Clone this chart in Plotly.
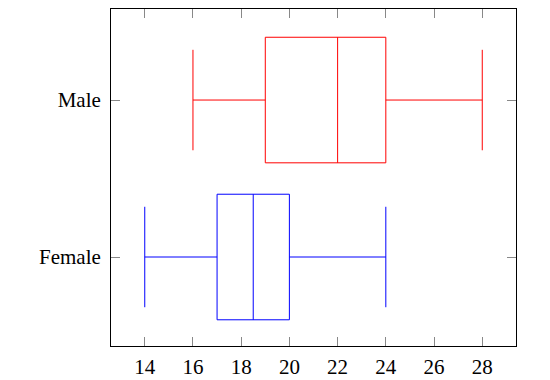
import plotly.graph_objects as go

categories = ["Female", "Male"]
lower_whisker = [14, 16]
q1 = [17, 19]
median = [18.5, 22]
q3 = [20, 24]
upper_whisker = [24, 28]
colors = ["blue", "red"]
x_ticks = [14, 16, 18, 20, 22, 24, 26, 28]

fig = go.Figure()
for i, cat in enumerate(categories):
    fig.add_trace(go.Box(
        y=[cat], orientation="h",
        q1=[q1[i]], median=[median[i]], q3=[q3[i]],
        lowerfence=[lower_whisker[i]], upperfence=[upper_whisker[i]],
        line=dict(color=colors[i], width=1),
        fillcolor="rgba(0,0,0,0)",
        width=0.8, whiskerwidth=0.8,
        boxpoints=False, showlegend=False, hoverinfo="skip",
    ))

font = dict(family="Liberation Serif, DejaVu Serif, serif", size=21, color="black")
axis_common = dict(
    showline=True, linecolor="black", linewidth=1, mirror="ticks",
    ticks="inside", ticklen=9, tickcolor="#888", tickwidth=1,
    showgrid=False, zeroline=False, tickfont=font, automargin=False,
)
fig.update_xaxes(range=[12.6, 29.4], tickvals=x_ticks, ticktext=[str(t) for t in x_ticks],
                 ticklabelstandoff=2, **axis_common)
fig.update_yaxes(type="category", categoryorder="array", categoryarray=categories,
                 range=[-0.567, 1.58], ticklabelstandoff=5, **axis_common)

fig.update_layout(
    width=550, height=380,
    margin=dict(l=111, r=34, t=9, b=34),
    paper_bgcolor="white", plot_bgcolor="white",
    boxmode="overlay",
)
fig.write_html("out.html")
